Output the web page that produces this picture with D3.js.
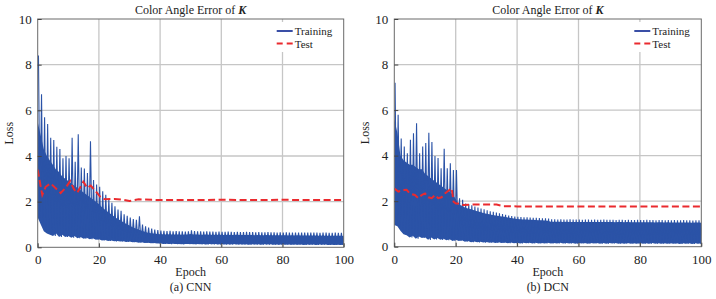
<!DOCTYPE html>
<html>
<head>
<meta charset="utf-8">
<script src="https://cdn.jsdelivr.net/npm/d3@7"></script>
<style>
body { margin: 0; background: #fff; }
svg text { font-family: "Liberation Serif", "Times New Roman", serif; fill: #222; }
</style>
</head>
<body>
<div id="chart"></div>
<script>
"use strict";

// tick labels
var xTicks = [0, 20, 40, 60, 80, 100];
var yTicks = [0, 2, 4, 6, 8, 10];

// (a) CNN, training loss per epoch: spike top, solid band top, band bottom
var cnnTrainHigh = [
    8.4, 6.7, 5.7, 5.4, 4.8, 4.7, 4.4, 4.3, 3.9, 4.0,
    3.9, 4.8, 3.75, 4.95, 3.5, 3.45, 3.25, 4.65, 2.95, 2.75,
    2.65, 2.45, 2.3, 2.1, 1.95, 1.8, 1.65, 1.6, 1.45, 1.38,
    1.3, 1.24, 1.2, 1.36, 1.0, 0.92, 0.86, 0.82, 0.78, 0.75,
    0.73, 0.72, 0.71, 0.72, 0.70, 0.71, 0.70, 0.70, 0.69, 0.70,
    0.74, 0.71, 0.70, 0.70, 0.69, 0.70, 0.69, 0.69, 0.68, 0.69,
    0.68, 0.68, 0.69, 0.68, 0.67, 0.68, 0.67, 0.67, 0.68, 0.67,
    0.67, 0.66, 0.67, 0.66, 0.66, 0.67, 0.66, 0.66, 0.65, 0.66,
    0.65, 0.66, 0.65, 0.65, 0.64, 0.65, 0.65, 0.64, 0.64, 0.65,
    0.64, 0.64, 0.63, 0.64, 0.64, 0.63, 0.63, 0.64, 0.63, 0.63,
    0.62
];
var cnnTrainBand = [
    5.5, 4.9, 4.3, 4.0, 3.8, 3.6, 3.4, 3.3, 3.1, 3.0,
    2.9, 2.8, 2.7, 2.6, 2.5, 2.4, 2.3, 2.2, 2.1, 2.0,
    1.9, 1.75, 1.65, 1.55, 1.45, 1.35, 1.25, 1.18, 1.1, 1.02,
    0.95, 0.88, 0.82, 0.78, 0.72, 0.68, 0.64, 0.62, 0.6, 0.58,
    0.57, 0.57, 0.56, 0.57, 0.56, 0.56, 0.56, 0.55, 0.56, 0.56,
    0.58, 0.56, 0.56, 0.55, 0.55, 0.56, 0.55, 0.55, 0.55, 0.55,
    0.55, 0.54, 0.55, 0.54, 0.54, 0.55, 0.54, 0.54, 0.54, 0.54,
    0.54, 0.53, 0.54, 0.53, 0.53, 0.54, 0.53, 0.53, 0.53, 0.53,
    0.53, 0.53, 0.52, 0.53, 0.52, 0.53, 0.52, 0.52, 0.52, 0.52,
    0.52, 0.52, 0.51, 0.52, 0.51, 0.51, 0.51, 0.51, 0.51, 0.51,
    0.5
];
var cnnTrainLow = [
    1.3, 1.0, 0.7, 0.6, 0.55, 0.5, 0.6, 0.45, 0.55, 0.45,
    0.5, 0.42, 0.5, 0.4, 0.45, 0.38, 0.42, 0.35, 0.4, 0.33,
    0.35, 0.3, 0.32, 0.28, 0.3, 0.26, 0.28, 0.25, 0.26, 0.23,
    0.25, 0.22, 0.23, 0.2, 0.22, 0.19, 0.2, 0.18, 0.19, 0.17,
    0.18, 0.15, 0.16, 0.14, 0.16, 0.14, 0.15, 0.13, 0.15, 0.14,
    0.15, 0.13, 0.15, 0.13, 0.14, 0.12, 0.14, 0.13, 0.14, 0.12,
    0.14, 0.12, 0.13, 0.12, 0.14, 0.12, 0.13, 0.12, 0.13, 0.11,
    0.13, 0.12, 0.13, 0.11, 0.13, 0.12, 0.13, 0.11, 0.12, 0.11,
    0.13, 0.11, 0.12, 0.11, 0.12, 0.11, 0.12, 0.1, 0.12, 0.11,
    0.12, 0.1, 0.12, 0.11, 0.12, 0.1, 0.11, 0.1, 0.11, 0.1,
    0.11
];
var cnnTestEpoch = [0, 1, 1.5, 2.6, 4.2, 5.8, 7.5, 9.1, 10.6, 11.9, 12.9, 14.9, 16.2, 17.3, 19, 20.5, 22, 25, 28, 30, 33, 40, 50, 60, 70, 80, 90, 100];
var cnnTestLoss = [3.4, 2.65, 2.3, 2.65, 2.8, 2.6, 2.38, 2.6, 2.9, 2.53, 2.38, 2.87, 2.6, 2.7, 2.45, 2.2, 2.1, 2.12, 2.08, 2.03, 2.1, 2.07, 2.07, 2.08, 2.07, 2.08, 2.07, 2.07];

// (b) DCN
var dcnTrainHigh = [
    7.2, 5.8, 4.75, 4.4, 4.1, 4.7, 4.98, 5.42, 4.1, 4.4,
    4.55, 5.0, 4.6, 3.98, 3.9, 3.45, 4.3, 3.45, 3.66, 3.37,
    3.37, 2.13, 2.06, 1.9, 1.86, 1.82, 1.76, 1.72, 1.68, 1.64,
    1.6, 1.56, 1.53, 1.5, 1.47, 1.44, 1.4, 1.37, 1.35, 1.33,
    1.31, 1.3, 1.29, 1.29, 1.28, 1.27, 1.27, 1.26, 1.25, 1.25,
    1.24, 1.2, 1.2, 1.19, 1.2, 1.19, 1.19, 1.2, 1.19, 1.19,
    1.19, 1.18, 1.19, 1.19, 1.18, 1.19, 1.18, 1.18, 1.19, 1.18,
    1.18, 1.18, 1.17, 1.18, 1.18, 1.17, 1.18, 1.17, 1.17, 1.18,
    1.17, 1.17, 1.18, 1.17, 1.17, 1.16, 1.17, 1.17, 1.16, 1.17,
    1.16, 1.17, 1.16, 1.16, 1.17, 1.16, 1.16, 1.15, 1.16, 1.16,
    1.15
];
var dcnTrainBand = [
    5.6, 5.0, 4.0, 3.8, 3.7, 3.6, 3.6, 3.5, 3.4, 3.4,
    3.2, 3.1, 3.0, 2.9, 2.8, 2.7, 2.6, 2.5, 2.4, 2.3,
    2.1, 1.85, 1.8, 1.72, 1.68, 1.64, 1.6, 1.56, 1.52, 1.48,
    1.45, 1.42, 1.39, 1.37, 1.35, 1.33, 1.31, 1.28, 1.26, 1.24,
    1.22, 1.21, 1.2, 1.19, 1.18, 1.18, 1.17, 1.16, 1.16, 1.15,
    1.14, 1.1, 1.1, 1.1, 1.1, 1.09, 1.1, 1.09, 1.09, 1.09,
    1.09, 1.08, 1.09, 1.09, 1.08, 1.09, 1.08, 1.08, 1.08, 1.08,
    1.08, 1.08, 1.07, 1.08, 1.08, 1.07, 1.08, 1.07, 1.07, 1.07,
    1.07, 1.07, 1.07, 1.07, 1.07, 1.06, 1.07, 1.07, 1.06, 1.07,
    1.06, 1.06, 1.06, 1.06, 1.06, 1.06, 1.06, 1.05, 1.06, 1.06,
    1.05
];
var dcnTrainLow = [
    0.95, 0.9, 0.7, 0.55, 0.5, 0.4, 0.48, 0.35, 0.45, 0.38,
    0.42, 0.3, 0.4, 0.32, 0.38, 0.3, 0.35, 0.28, 0.33, 0.25,
    0.3, 0.25, 0.28, 0.22, 0.25, 0.2, 0.23, 0.19, 0.22, 0.18,
    0.21, 0.17, 0.2, 0.16, 0.19, 0.16, 0.18, 0.15, 0.18, 0.15,
    0.17, 0.14, 0.17, 0.15, 0.17, 0.14, 0.17, 0.14, 0.16, 0.14,
    0.17, 0.14, 0.16, 0.14, 0.17, 0.14, 0.16, 0.14, 0.16, 0.13,
    0.16, 0.14, 0.16, 0.13, 0.16, 0.14, 0.16, 0.13, 0.16, 0.13,
    0.16, 0.14, 0.16, 0.13, 0.15, 0.13, 0.16, 0.13, 0.15, 0.13,
    0.16, 0.13, 0.15, 0.13, 0.16, 0.13, 0.15, 0.13, 0.15, 0.13,
    0.15, 0.13, 0.15, 0.12, 0.15, 0.13, 0.15, 0.12, 0.15, 0.13,
    0.15
];
var dcnTestEpoch = [0, 1.3, 2.9, 4, 5, 6.7, 7.8, 8.9, 10, 11.1, 12.2, 13.3, 14.3, 15.4, 16.5, 17.9, 18.7, 19.3, 20.1, 21.4, 22.5, 25.7, 33.3, 35.5, 40, 50, 60, 70, 80, 90, 100];
var dcnTestLoss = [2.56, 2.42, 2.49, 2.5, 2.34, 2.27, 2.13, 2.27, 2.34, 2.17, 2.13, 2.27, 2.13, 2.17, 2.34, 2.49, 2.56, 1.98, 1.9, 1.9, 1.83, 1.85, 1.85, 1.78, 1.77, 1.77, 1.77, 1.77, 1.77, 1.77, 1.76];

var svgWidth = 716;
var svgHeight = 299;

var trainColor = "#2b53a7";
var testColor = "#ea2a2e";
var gridColor = "#c6c6c6";

var svgContainer = d3.select("#chart").append("svg")
    .attr("width", svgWidth)
    .attr("height", svgHeight);

function drawPanel(panel)
{
    var g = svgContainer.append("g")
        .attr("transform", "translate(" + panel.left + "," + panel.top + ")");

    var x = d3.scaleLinear().domain([0, 100]).range([0, panel.width]);
    var y = d3.scaleLinear().domain([0, 10]).range([panel.height, 0]);

    // grid
    g.selectAll(".vgrid")
        .data(xTicks.slice(1, -1))
        .enter().append("line")
        .attr("x1", function(d) { return x(d); })
        .attr("x2", function(d) { return x(d); })
        .attr("y1", 0).attr("y2", panel.height)
        .attr("stroke", gridColor).attr("stroke-width", 1.3);

    g.selectAll(".hgrid")
        .data(yTicks.slice(1, -1))
        .enter().append("line")
        .attr("x1", 0).attr("x2", panel.width)
        .attr("y1", function(d) { return y(d); })
        .attr("y2", function(d) { return y(d); })
        .attr("stroke", gridColor).attr("stroke-width", 1.3);

    var clipId = "clip-" + panel.name;
    g.append("clipPath").attr("id", clipId)
        .append("rect").attr("width", panel.width).attr("height", panel.height);

    var data = g.append("g").attr("clip-path", "url(#" + clipId + ")");

    // training: solid band plus per-epoch spikes
    var band = panel.high.map(function(h, i) {
        return { e: i, lo: panel.low[i], top: panel.band[i] };
    });

    data.append("path")
        .datum(band)
        .attr("fill", trainColor)
        .attr("d", d3.area()
            .x(function(d) { return x(d.e); })
            .y0(function(d) { return y(d.lo); })
            .y1(function(d) { return y(d.top); }));

    // spike rises early in each epoch, trough later in it
    var zig = [];
    for (var i = 0; i < panel.high.length; i++)
    {
        zig.push([i + 0.25, panel.high[i]]);
        zig.push([i + 0.75, panel.low[i]]);
    }

    data.append("path")
        .datum(zig)
        .attr("fill", "none")
        .attr("stroke", trainColor)
        .attr("stroke-width", 1.1)
        .attr("d", d3.line()
            .x(function(d) { return x(d[0]); })
            .y(function(d) { return y(d[1]); }));

    // test
    data.append("path")
        .datum(panel.testEpoch)
        .attr("fill", "none")
        .attr("stroke", testColor)
        .attr("stroke-width", 2)
        .attr("stroke-dasharray", "7,3.5")
        .attr("d", d3.line()
            .x(function(d) { return x(d); })
            .y(function(d, i) { return y(panel.testLoss[i]); }));

    // frame
    g.append("rect")
        .attr("width", panel.width).attr("height", panel.height)
        .attr("fill", "none")
        .attr("stroke", "#6a6a6a").attr("stroke-width", 1);

    // axes with inward ticks
    var xAxis = d3.axisBottom(x).tickValues(xTicks).tickSize(-4).tickPadding(6);
    var yAxis = d3.axisLeft(y).tickValues(yTicks).tickSize(-4).tickPadding(6);

    var gx = g.append("g")
        .attr("transform", "translate(0," + panel.height + ")")
        .call(xAxis);
    var gy = g.append("g").call(yAxis);

    [gx, gy].forEach(function(ax) {
        ax.select(".domain").remove();
        ax.selectAll("line").attr("stroke", "#444");
        ax.selectAll("text")
            .attr("fill", "#222")
            .style("font-family", "'Liberation Serif', serif")
            .style("font-size", "13px");
    });
    gx.selectAll("text").attr("dy", "0.85em");

    // title
    var title = g.append("text")
        .attr("x", panel.width / 2)
        .attr("y", -5)
        .attr("text-anchor", "middle")
        .style("font-size", "12px")
        .text("Color Angle Error of ");
    title.append("tspan")
        .style("font-weight", "bold")
        .style("font-style", "italic")
        .text("K");

    // axis labels
    g.append("text")
        .attr("x", panel.width / 2)
        .attr("y", panel.height + 29)
        .attr("text-anchor", "middle")
        .style("font-size", "12px")
        .text("Epoch");

    g.append("text")
        .attr("x", panel.width / 2)
        .attr("y", panel.height + 44)
        .attr("text-anchor", "middle")
        .style("font-size", "12px")
        .text(panel.caption);

    g.append("text")
        .attr("transform", "translate(-25," + (panel.height / 2) + ") rotate(-90)")
        .attr("text-anchor", "middle")
        .style("font-size", "12px")
        .text("Loss");

    // legend
    var lg = g.append("g")
        .attr("transform", "translate(" + (panel.width - 70) + ",3)");
    lg.append("rect")
        .attr("width", 68).attr("height", 30)
        .attr("fill", "#fff");
    lg.append("line")
        .attr("x1", 3).attr("x2", 19).attr("y1", 9).attr("y2", 9)
        .attr("stroke", "#3a4fa6").attr("stroke-width", 2);
    lg.append("text").attr("x", 21).attr("y", 12.5)
        .style("font-size", "11px").text("Training");
    lg.append("line")
        .attr("x1", 3).attr("x2", 19).attr("y1", 21.5).attr("y2", 21.5)
        .attr("stroke", testColor).attr("stroke-width", 2)
        .attr("stroke-dasharray", "6,4");
    lg.append("text").attr("x", 21).attr("y", 25.5)
        .style("font-size", "11px").text("Test");
}

drawPanel({
    name: "cnn", left: 37.7, top: 19, width: 306, height: 228.3,
    high: cnnTrainHigh, band: cnnTrainBand, low: cnnTrainLow,
    testEpoch: cnnTestEpoch, testLoss: cnnTestLoss,
    caption: "(a) CNN"
});

drawPanel({
    name: "dcn", left: 394.3, top: 19, width: 307, height: 227.7,
    high: dcnTrainHigh, band: dcnTrainBand, low: dcnTrainLow,
    testEpoch: dcnTestEpoch, testLoss: dcnTestLoss,
    caption: "(b) DCN"
});
</script>
</body>
</html>
